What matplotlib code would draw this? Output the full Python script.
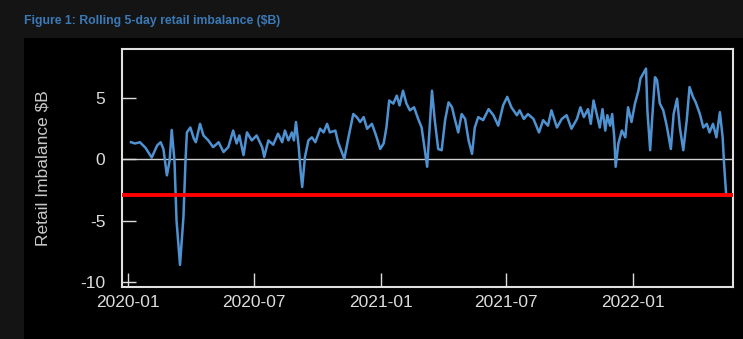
import pandas as pd
import matplotlib
matplotlib.use("Agg")
import matplotlib.pyplot as plt
import matplotlib.dates as mdates
from matplotlib.patches import Rectangle

plt.rcParams["axes.unicode_minus"] = False
plt.rcParams["font.family"] = ["Liberation Sans", "DejaVu Sans"]

# Rolling 5-day retail imbalance ($B)
dates = [
    "2020-01-05", "2020-01-11", "2020-01-18", "2020-01-26", "2020-02-04", "2020-02-12",
    "2020-02-17", "2020-02-21", "2020-02-26", "2020-03-01", "2020-03-04", "2020-03-08",
    "2020-03-11", "2020-03-16", "2020-03-21", "2020-03-24", "2020-03-26", "2020-03-31",
    "2020-04-05", "2020-04-08", "2020-04-14", "2020-04-19", "2020-04-26", "2020-05-03",
    "2020-05-11", "2020-05-18", "2020-05-25", "2020-06-01", "2020-06-06", "2020-06-10",
    "2020-06-16", "2020-06-21", "2020-06-28", "2020-07-05", "2020-07-13", "2020-07-16",
    "2020-07-22", "2020-07-29", "2020-08-05", "2020-08-11", "2020-08-15", "2020-08-20",
    "2020-08-25", "2020-08-28", "2020-08-31", "2020-09-04", "2020-09-07", "2020-09-09",
    "2020-09-13", "2020-09-18", "2020-09-23", "2020-09-28", "2020-10-05", "2020-10-10",
    "2020-10-15", "2020-10-19", "2020-10-27", "2020-10-31", "2020-11-09", "2020-11-15",
    "2020-11-22", "2020-11-27", "2020-12-02", "2020-12-07", "2020-12-12", "2020-12-19",
    "2020-12-25", "2020-12-31", "2021-01-05", "2021-01-09", "2021-01-13", "2021-01-19",
    "2021-01-24", "2021-01-28", "2021-02-02", "2021-02-07", "2021-02-12", "2021-02-18",
    "2021-02-24", "2021-03-01", "2021-03-04", "2021-03-09", "2021-03-13", "2021-03-16",
    "2021-03-20", "2021-03-25", "2021-03-30", "2021-04-04", "2021-04-09", "2021-04-14",
    "2021-04-18", "2021-04-23", "2021-04-28", "2021-05-03", "2021-05-08", "2021-05-13",
    "2021-05-17", "2021-05-22", "2021-05-29", "2021-06-06", "2021-06-13", "2021-06-20",
    "2021-06-27", "2021-07-03", "2021-07-09", "2021-07-17", "2021-07-21", "2021-07-27",
    "2021-08-02", "2021-08-10", "2021-08-18", "2021-08-24", "2021-08-31", "2021-09-05",
    "2021-09-13", "2021-09-20", "2021-09-27", "2021-10-04", "2021-10-12", "2021-10-17",
    "2021-10-22", "2021-10-28", "2021-11-01", "2021-11-05", "2021-11-10", "2021-11-14",
    "2021-11-18", "2021-11-22", "2021-11-25", "2021-11-29", "2021-12-02", "2021-12-05",
    "2021-12-07", "2021-12-11", "2021-12-16", "2021-12-21", "2021-12-25", "2021-12-30",
    "2022-01-04", "2022-01-09", "2022-01-12", "2022-01-16", "2022-01-20", "2022-01-22",
    "2022-01-26", "2022-01-30", "2022-02-02", "2022-02-05", "2022-02-09", "2022-02-14",
    "2022-02-19", "2022-02-25", "2022-03-01", "2022-03-06", "2022-03-10", "2022-03-15",
    "2022-03-20", "2022-03-24", "2022-03-29", "2022-04-02", "2022-04-08", "2022-04-13",
    "2022-04-18", "2022-04-22", "2022-04-27", "2022-05-02", "2022-05-07", "2022-05-11",
    "2022-05-13", "2022-05-16",
]
imbalance = [
    1.4, 1.3, 1.4, 0.95, 0.15, 1.15,
    1.4, 0.85, -1.3, -0.1, 2.4, -0.1,
    -5.0, -8.6, -4.7, -0.1, 2.2, 2.6,
    1.7, 1.4, 2.9, 1.95, 1.55, 1.0,
    1.4, 0.6, 1.0, 2.35, 1.3, 1.95,
    0.35, 2.2, 1.55, 1.95, 1.0, 0.2,
    1.55, 1.2, 2.1, 1.4, 2.35, 1.55,
    2.2, 1.55, 3.05, 1.0, -1.15, -2.25,
    0.2, 1.55, 1.8, 1.4, 2.5, 2.2,
    2.9, 2.2, 2.35, 1.4, 0.05, 1.8,
    3.7, 3.45, 3.05, 3.45, 2.5, 2.9,
    1.95, 0.85, 1.3, 2.6, 4.8, 4.55,
    5.2, 4.4, 5.6, 4.55, 4.0, 4.25,
    3.3, 2.6, 1.4, -0.6, 3.0, 5.6,
    3.2, 0.85, 0.75, 3.2, 4.65, 4.25,
    3.3, 2.2, 3.7, 3.3, 1.55, 0.45,
    2.6, 3.45, 3.2, 4.1, 3.6, 2.75,
    4.4, 5.1, 4.25, 3.6, 4.0, 3.3,
    3.7, 3.3, 2.2, 3.2, 2.75, 4.0,
    2.6, 3.3, 3.6, 2.5, 3.3, 4.25,
    3.45, 4.1, 2.9, 4.8, 3.6, 2.6,
    4.1, 2.35, 3.6, 2.75, 3.7, 1.8,
    -0.6, 1.3, 2.35, 1.8, 4.25, 3.05,
    4.55, 5.6, 6.6, 7.0, 7.4, 4.0,
    0.75, 4.25, 6.7, 6.45, 4.55, 4.0,
    2.75, 0.85, 3.7, 4.95, 2.6, 0.75,
    3.2, 5.9, 5.1, 4.65, 3.7, 2.6,
    2.9, 2.2, 2.9, 1.8, 3.85, 1.8,
    -0.3, -2.8,
]
threshold = -2.9
x_ticks = ["2020-01-01", "2020-07-01", "2021-01-01", "2021-07-01", "2022-01-01"]
y_ticks = [-10, -5, 0, 5]

df = pd.DataFrame({"date": pd.to_datetime(dates), "imbalance": imbalance})

fig = plt.figure(figsize=(7.43, 3.39), dpi=100, facecolor="#141414")
# black panel behind the chart
panel = Rectangle((24 / 743, 0), 1, (339 - 38) / 339, transform=fig.transFigure,
                  facecolor="black", edgecolor="none", zorder=-5)
fig.patches.append(panel)

ax = fig.add_axes([122 / 743, 52 / 339, 611 / 743, 238 / 339])
ax.set_zorder(2)
ax.set_facecolor("black")

ax.axhline(0, color="#cfcfcf", linewidth=1.0, zorder=1)
ax.plot(df["date"], df["imbalance"], color="#4f92d2", linewidth=1.8, zorder=2)
ax.axhline(threshold, color="#ff0000", linewidth=2.8, zorder=3)

ax.set_xlim(pd.Timestamp("2019-12-23"), pd.Timestamp("2022-05-26"))
ax.set_ylim(-10.4, 9.0)
ax.set_xticks(pd.to_datetime(x_ticks))
ax.xaxis.set_major_formatter(mdates.DateFormatter("%Y-%m"))
ax.set_yticks(y_ticks)

for s in ax.spines.values():
    s.set_color("#e0e0e0")
    s.set_linewidth(1.5)

ax.tick_params(axis="both", direction="in", colors="#dcdcdc", length=10,
               width=1.0, labelsize=12.5)
ax.tick_params(axis="y", pad=12)
ax.tick_params(axis="x", pad=6)

fig.text(43 / 743, 0.505, "Retail Imbalance $B", rotation=90, color="#c8c8c8",
         fontsize=12.5, ha="center", va="center", zorder=3)

fig.text(24 / 743, 1 - 21 / 339, "Figure 1: Rolling 5-day retail imbalance ($B)",
         color="#3a7ab8", fontsize=8.8, fontweight="bold", ha="left", va="center",
         zorder=3)

fig.savefig("out.png", dpi=100, facecolor=fig.get_facecolor())
